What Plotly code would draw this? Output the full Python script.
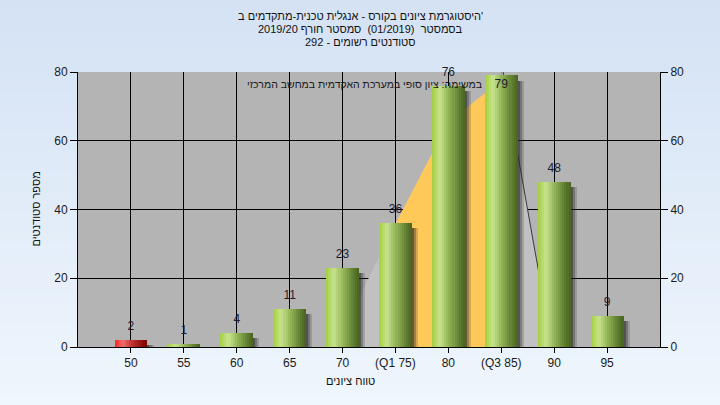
import plotly.graph_objects as go

# ---------------- data ----------------
categories = ["50", "55", "60", "65", "70", "(Q1 75)", "80", "(Q3 85)", "90", "95"]
counts = [2, 1, 4, 11, 23, 36, 76, 79, 48, 9]
failing = [1, 0, 0, 0, 0, 0, 0, 0, 0, 0]
y_ticks = [0, 20, 40, 60, 80]
# background distribution area (category-index units)
curve_x = [3.85, 5, 6, 7, 7, 7.96]
curve_y = [0, 35.8, 65.4, 77.6, 83, 0]
# inter-quartile highlighted part
iqr_x = [5, 5, 6, 7, 7]
iqr_y = [0, 35.8, 65.4, 77.6, 0]

title_lines = [
    "היסטוגרמת ציונים בקורס - אנגלית טכנית-מתקדמים ב'",
    "בסמסטר  (01/2019)  סמסטר חורף 2019/20",
    "סטודנטים רשומים - 292",
]
note_text = "במשימה: ציון סופי במערכת האקדמית במחשב המרכזי"
x_title = "טווח ציונים"
y_title = "מספר סטודנטים"

# ---------------- layout constants ----------------
W, H = 720, 405
ML, MR, MT, MB = 78, 60, 72, 58
PW, PH = W - ML - MR, H - MT - MB
FONT = "Arial, Liberation Sans, sans-serif"
idx = list(range(len(categories)))

def interp(stops, t):
    for (t0, c0), (t1, c1) in zip(stops, stops[1:]):
        if t0 <= t <= t1:
            f = (t - t0) / (t1 - t0) if t1 > t0 else 0
            c = [round(a + (b - a) * f) for a, b in zip(c0, c1)]
            return "rgb(%d,%d,%d)" % tuple(c)
    c = stops[-1][1]
    return "rgb(%d,%d,%d)" % tuple(c)

green = [(0, (162, 208, 60)), (0.25, (200, 226, 142)), (0.5, (150, 184, 88)),
         (0.8, (100, 130, 52)), (1.0, (70, 98, 30))]
red = [(0, (255, 34, 34)), (0.25, (236, 112, 112)), (0.5, (200, 54, 54)),
       (0.8, (150, 20, 20)), (1.0, (118, 0, 0))]

fig = go.Figure()

# distribution area (main subplot, drawn under the bars)
fig.add_trace(go.Scatter(x=curve_x, y=curve_y, fill="toself", mode="lines",
                         line=dict(width=0), fillcolor="#c1c1c1",
                         hoverinfo="skip", showlegend=False))
fig.add_trace(go.Scatter(x=iqr_x, y=iqr_y, fill="toself", mode="lines",
                         line=dict(width=0), fillcolor="#ffc95a",
                         hoverinfo="skip", showlegend=False))
fig.add_trace(go.Scatter(x=curve_x[-2:], y=curve_y[-2:], mode="lines",
                         line=dict(width=1, color="#3a3a3a"),
                         hoverinfo="skip", showlegend=False))

BW = 0.62
# shadows (overlay subplot)
shadow_drop = 1.5
for k, a in enumerate([0.7, 0.45, 0.2]):
    fig.add_trace(go.Bar(x=idx, y=[max(v - shadow_drop, 0) for v in counts],
                         width=0.04, offset=BW / 2 + k * 0.04, yaxis="y2",
                         marker=dict(color="rgba(40,40,40,%.2f)" % a, line=dict(width=0)),
                         hoverinfo="skip", showlegend=False))

# gradient bars made of strips
N = 16
for i in range(N):
    t = (i + 0.5) / N
    cols = [interp(red if f else green, t) for f in failing]
    fig.add_trace(go.Bar(x=idx, y=counts, width=BW / N + 0.002,
                         offset=-BW / 2 + i * BW / N, yaxis="y2",
                         marker=dict(color=cols, line=dict(width=0)),
                         hoverinfo="skip", showlegend=False))

# value labels
label_y = [v + 3.8 if v + 3.8 <= 80 else v - 2.8 for v in counts]
fig.add_trace(go.Scatter(x=idx, y=label_y, mode="text", text=[str(v) for v in counts],
                         yaxis="y2",
                         textfont=dict(family=FONT, size=12, color="#1c1c30"),
                         cliponaxis=False, hoverinfo="skip", showlegend=False))

# background gradient bands (outside plot area)
shapes = []
NB = 40
top_c, bot_c = (212, 226, 244), (239, 246, 253)
for b in range(NB):
    py0 = b * H / NB
    py1 = (b + 1) * H / NB + 0.5
    f = (b + 0.5) / NB
    c = "rgb(%d,%d,%d)" % tuple(round(a + (bb - a) * f) for a, bb in zip(top_c, bot_c))
    y0 = (H - MB - py1) / PH
    y1 = (H - MB - py0) / PH
    xl, xr = -ML / PW - 0.01, 1 + MR / PW + 0.01
    if py1 <= MT or py0 >= H - MB:
        shapes.append(dict(type="rect", xref="paper", yref="paper", x0=xl, x1=xr,
                           y0=y0, y1=y1, fillcolor=c, line=dict(width=0), layer="below"))
    else:
        shapes.append(dict(type="rect", xref="paper", yref="paper", x0=xl, x1=0,
                           y0=y0, y1=y1, fillcolor=c, line=dict(width=0), layer="below"))
        shapes.append(dict(type="rect", xref="paper", yref="paper", x0=1, x1=xr,
                           y0=y0, y1=y1, fillcolor=c, line=dict(width=0), layer="below"))
        if py0 < MT:
            shapes.append(dict(type="rect", xref="paper", yref="paper", x0=0, x1=1,
                               y0=1, y1=y1, fillcolor=c, line=dict(width=0), layer="below"))
        if py1 > H - MB:
            shapes.append(dict(type="rect", xref="paper", yref="paper", x0=0, x1=1,
                               y0=y0, y1=0, fillcolor=c, line=dict(width=0), layer="below"))

annotations = []
for k, line in enumerate(title_lines):
    annotations.append(dict(text=line, xref="paper", yref="paper",
                            x=(360 - ML) / PW, y=(H - MB - (16 + 13 * k)) / PH,
                            xanchor="center", yanchor="middle", showarrow=False,
                            font=dict(family=FONT, size=11, color="#111")))
annotations.append(dict(text=note_text, xref="paper", yref="paper",
                        x=(364 - ML) / PW, y=(H - MB - 84.5) / PH,
                        xanchor="center", yanchor="middle", showarrow=False,
                        font=dict(family=FONT, size=10.5, color="#1a1a1a")))
annotations.append(dict(text=x_title, xref="paper", yref="paper",
                        x=(350 - ML) / PW, y=(H - MB - 381) / PH,
                        xanchor="center", yanchor="middle", showarrow=False,
                        font=dict(family=FONT, size=11, color="#111")))
annotations.append(dict(text=y_title, xref="paper", yref="paper",
                        x=(35 - ML) / PW, y=0.5, textangle=-90,
                        xanchor="center", yanchor="middle", showarrow=False,
                        font=dict(family=FONT, size=11, color="#111")))

axis_font = dict(family=FONT, size=12, color="#1a1a1a")
fig.update_layout(
    width=W, height=H, margin=dict(l=ML, r=MR, t=MT, b=MB),
    paper_bgcolor="rgb(226,236,249)", plot_bgcolor="#b4b4b4",
    barmode="overlay", bargap=0, showlegend=False,
    shapes=shapes, annotations=annotations,
    xaxis=dict(range=[-1, 10], tickvals=idx, ticktext=categories,
               showgrid=True, gridcolor="black", gridwidth=1,
               showline=True, linecolor="black", linewidth=1,
               ticks="outside", ticklen=5, tickcolor="black",
               tickfont=axis_font, zeroline=False, fixedrange=True),
    yaxis=dict(range=[0, 80], tickvals=y_ticks, showgrid=True, gridcolor="black",
               gridwidth=1, showline=True, linecolor="black", linewidth=1,
               ticks="outside", ticklen=7, tickcolor="black", tickfont=axis_font,
               zeroline=False, fixedrange=True),
    yaxis2=dict(range=[0, 80], tickvals=y_ticks, overlaying="y", side="right",
                showgrid=False, showline=True, linecolor="black", linewidth=1,
                ticks="outside", ticklen=7, tickcolor="black", tickfont=axis_font,
                zeroline=False, fixedrange=True),
)

fig.write_html("out.html", config={"displayModeBar": False},
               post_script="document.body.style.margin='0';")
